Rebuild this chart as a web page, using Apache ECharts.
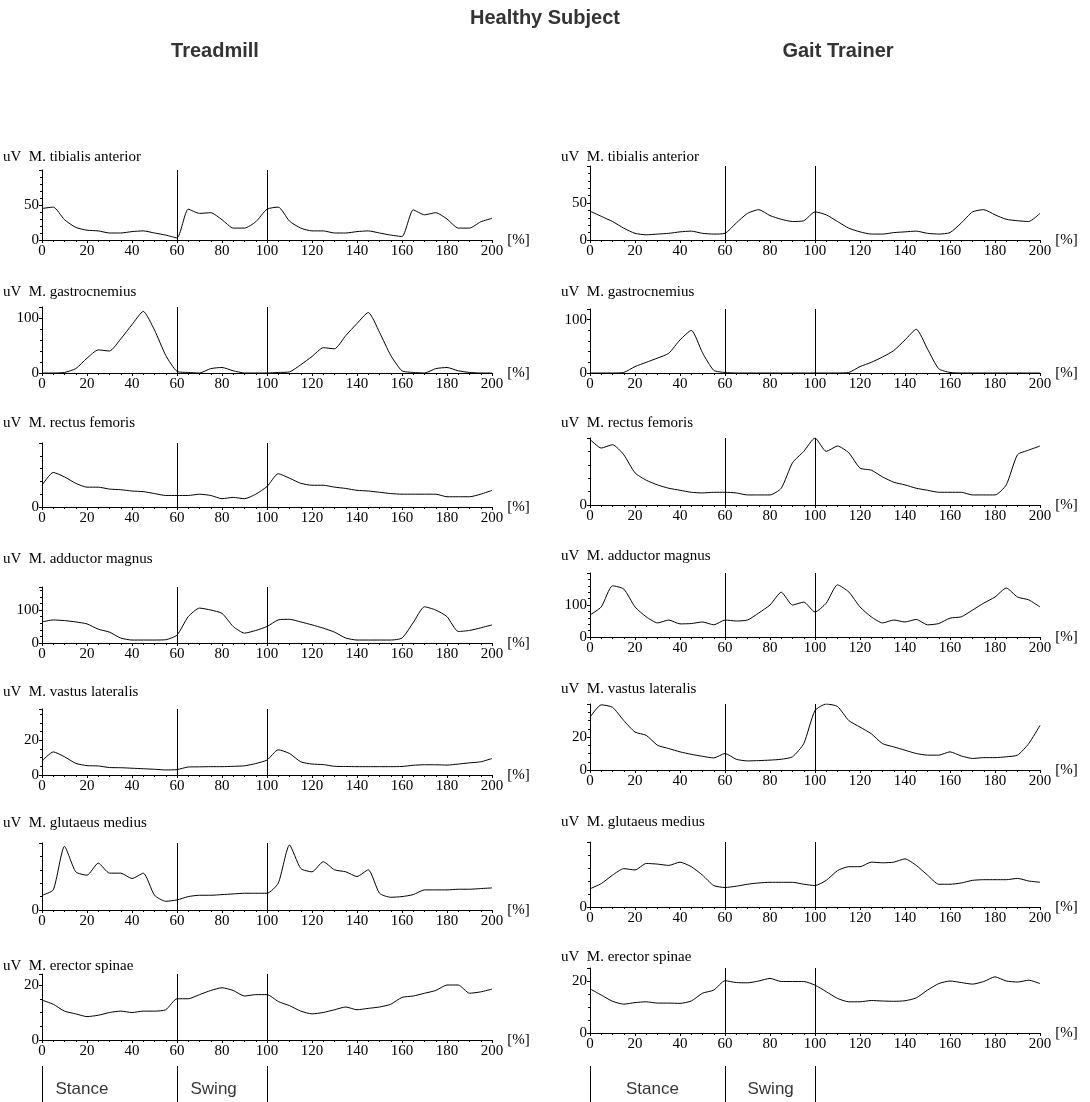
<!DOCTYPE html>
<html>
<head>
<meta charset="utf-8">
<script src="https://cdn.jsdelivr.net/npm/echarts@6.0.0/dist/echarts.min.js"></script>
<style>
  html, body { margin: 0; padding: 0; background: #fff; }
  #chart { width: 1090px; height: 1102px; }
</style>
</head>
<body>
<div id="chart"></div>
<script>
  // gait cycle in percent, two strides
  const pct = [0, 5, 10, 15, 20, 25, 30, 35, 40, 45, 50, 55, 60, 65, 70, 75, 80, 85, 90, 95, 100,
               105, 110, 115, 120, 125, 130, 135, 140, 145, 150, 155, 160, 165, 170, 175, 180, 185, 190, 195, 200];

  const muscles = ['M. tibialis anterior', 'M. gastrocnemius', 'M. rectus femoris', 'M. adductor magnus',
                   'M. vastus lateralis', 'M. glutaeus medius', 'M. erector spinae'];
  const phaseNames = ['Stance', 'Swing'];

  // treadmill (left column)
  const tibialisTreadmill = [45, 47, 29, 18, 14, 13, 10, 10, 12, 13, 10, 7, 3, 44, 38, 39, 29, 17, 17, 26, 44,
                             47, 27, 17, 13, 13, 10, 10, 12, 13, 10, 7, 5, 43, 36, 39, 30, 17, 17, 26, 31];
  const gastrocTreadmill = [0, 0, 1, 8, 27, 42, 40, 62, 88, 112, 78, 32, 3, 1, 0, 8, 10, 4, 0, 0, 0,
                            1, 2, 15, 30, 46, 44, 68, 90, 110, 74, 32, 4, 1, 0, 8, 10, 4, 1, 0, 0];
  const rectusTreadmill = [34, 54, 47, 37, 31, 31, 28, 27, 25, 24, 21, 18, 18, 18, 20, 18, 13, 15, 13, 20, 32,
                           52, 45, 37, 34, 34, 31, 29, 26, 25, 23, 21, 20, 20, 20, 20, 16, 16, 16, 20, 26];
  const adductorTreadmill = [64, 70, 68, 64, 58, 42, 33, 15, 9, 9, 9, 10, 24, 80, 106, 100, 90, 50, 30, 38, 50,
                             70, 72, 64, 55, 45, 33, 15, 9, 9, 9, 9, 15, 62, 110, 100, 80, 35, 38, 46, 55];
  const vastusTreadmill = [8, 13.3, 10.5, 6.7, 5.4, 5.2, 4.3, 4.2, 3.9, 3.6, 3.3, 2.9, 3.1, 4.6, 4.7, 4.8, 4.8, 5.0, 5.3, 6.6, 8.6,
                           14.5, 12.4, 7.6, 6.3, 6.0, 5.0, 4.9, 4.8, 4.8, 4.8, 4.8, 4.9, 5.6, 5.9, 5.9, 5.7, 6.3, 7.0, 7.6, 9.5];
  const glutTreadmill = [22, 30, 95, 57, 52, 70, 55, 55, 47, 55, 22, 13, 15, 20, 22, 22, 23, 24, 25, 25, 25,
                         40, 97, 62, 57, 72, 60, 57, 50, 60, 25, 19, 20, 23, 30, 30, 30, 31, 31, 32, 33];
  const erectorTreadmill = [14.5, 13, 10.5, 9.5, 8.5, 9, 10, 10.5, 10, 10.5, 10.5, 11, 15, 15, 16.5, 18, 19, 18, 16, 16.5, 16.5,
                            14, 12.5, 10.5, 9.5, 10, 11, 12, 11, 11.5, 12, 13, 15.5, 16, 17, 18, 20, 20, 17, 17.5, 18.5];

  // gait trainer (right column)
  const tibialisGait = [39, 32, 25, 16, 9, 7, 8, 9, 11, 12, 9, 8, 9, 23, 36, 41, 33, 28, 25, 26, 38,
                        34, 25, 16, 11, 8, 8, 10, 11, 12, 9, 8, 10, 23, 38, 41, 34, 28, 26, 25, 36];
  const gastrocGait = [0, 0, 0, 1, 12, 20, 28, 37, 62, 80, 38, 5, 1, 0, 0, 0, 0, 0, 0, 0, 0,
                       0, 0, 1, 12, 20, 30, 42, 62, 82, 45, 8, 1, 0, 0, 0, 0, 0, 0, 0, 0];
  const rectusGait = [98, 85, 90, 75, 48, 37, 30, 25, 22, 19, 18, 19, 19, 18, 15, 15, 15, 25, 63, 80, 100,
                      80, 88, 78, 55, 52, 42, 34, 30, 25, 22, 19, 19, 19, 15, 15, 15, 30, 75, 82, 88];
  const adductorGait = [69, 94, 160, 150, 94, 63, 44, 53, 41, 42, 47, 38, 53, 50, 53, 75, 100, 140, 100, 109, 78,
                        106, 163, 141, 94, 63, 44, 53, 47, 55, 38, 42, 59, 63, 84, 106, 125, 153, 125, 116, 94];
  const vastusGait = [32, 39.5, 38, 30, 23, 21, 15, 13, 11, 9.5, 8.3, 7.3, 10, 6.5, 5.5, 5.7, 6, 6.5, 8, 16, 36,
                      40, 38.5, 30, 26, 22, 16, 14, 12, 10, 9, 9, 11, 8.5, 7, 7.5, 7.5, 8, 9, 16, 27];
  const glutGait = [28, 36, 49, 59, 57, 67, 66, 64, 69, 62, 49, 33, 30, 32, 35, 37, 38, 38, 38, 35, 33,
                    41, 56, 62, 62, 69, 68, 69, 74, 64, 49, 35, 35, 37, 41, 42, 42, 42, 44, 40, 38];
  const erectorGait = [17, 14.6, 12.2, 11.1, 11.7, 12, 11.5, 11.5, 11.4, 12.3, 15.3, 16.5, 20.1, 19.4, 19.3, 20, 21, 19.8, 19.8, 19.8, 18.4,
                       15.9, 13.3, 12, 12, 12.5, 12.3, 12.2, 12.4, 13.5, 16.5, 19, 20, 19.4, 18.8, 19.8, 21.6, 20, 19.6, 20.3, 19];

  const treadmill = [tibialisTreadmill, gastrocTreadmill, rectusTreadmill, adductorTreadmill, vastusTreadmill, glutTreadmill, erectorTreadmill];
  const gaitTrainer = [tibialisGait, gastrocGait, rectusGait, adductorGait, vastusGait, glutGait, erectorGait];

  // layout per row: [zero line y, plot height, y max, y interval]
  const leftRows = [[240, 70, 100, 50], [373, 66, 120, 100], [507, 64, 100, 100], [643, 56, 170, 100],
                    [775, 66, 38, 20], [910, 67, 100, 100], [1040, 66, 24, 20]];
  const rightRows = [[240, 74, 100, 50], [373, 64, 120, 100], [505, 67, 100, 100], [637, 64, 200, 100],
                     [770, 66, 40, 20], [907, 65, 100, 100], [1033, 65, 25, 20]];
  const leftTitleY = [157, 292, 423, 559, 692, 823, 966];
  const rightTitleY = [157, 292, 423, 556, 689, 822, 957];

  const serif = '"Liberation Serif", "DejaVu Serif", serif';
  const sans = '"Liberation Sans", Arial, sans-serif';

  const grids = [], xAxes = [], yAxes = [], series = [], texts = [];

  function addPanel(colX, colW, row, values, titleX, titleY, title) {
    const [zeroY, h, yMax, yInt] = row;
    const idx = grids.length;
    grids.push({ left: colX, top: zeroY - h, width: colW, height: h, outerBoundsMode: 'none', containLabel: false });
    xAxes.push({
      gridIndex: idx, type: 'value', min: 0, max: 200, interval: 20,
      name: '[%]', nameLocation: 'end', nameGap: 3,
      nameTextStyle: { fontFamily: serif, fontSize: 15, color: '#000', padding: [0, 0, 8, 0] },
      axisLine: { show: true, onZero: false, lineStyle: { color: '#000', width: 1 } },
      axisTick: { show: true, length: 3, lineStyle: { color: '#000' } },
      minorTick: { show: true, splitNumber: 4, length: 2, lineStyle: { color: '#000' } },
      axisLabel: { fontFamily: serif, fontSize: 15, color: '#000', margin: 4 },
      splitLine: { show: false }, minorSplitLine: { show: false }
    });
    yAxes.push({
      gridIndex: idx, type: 'value', min: 0, max: yMax, interval: yInt,
      axisLine: { show: true, onZero: false, lineStyle: { color: '#000', width: 1 } },
      axisTick: { show: true, length: 3, lineStyle: { color: '#000' } },
      minorTick: { show: true, splitNumber: yInt === 20 ? 4 : 5, length: 2, lineStyle: { color: '#000' } },
      axisLabel: { showMaxLabel: false, fontFamily: serif, fontSize: 15, color: '#000', margin: 3 },
      splitLine: { show: false }, minorSplitLine: { show: false }
    });
    series.push({
      type: 'line', xAxisIndex: idx, yAxisIndex: idx,
      data: pct.map((p, k) => [p, values[k]]),
      showSymbol: false, symbol: 'none', smooth: 0.2,
      lineStyle: { color: '#000', width: 1 },
      markLine: {
        silent: true, symbol: ['none', 'none'], label: { show: false },
        lineStyle: { color: '#000', width: 1, type: 'solid' },
        data: [{ xAxis: 60 }, { xAxis: 100 }]
      }
    });
    texts.push({
      type: 'text', x: titleX, y: titleY,
      style: { text: 'uV  ' + title, font: '15px ' + serif, fill: '#000', textVerticalAlign: 'middle' }
    });
  }

  muscles.forEach((m, i) => {
    addPanel(42, 450, leftRows[i], treadmill[i], 3, leftTitleY[i], m);
    addPanel(590, 450, rightRows[i], gaitTrainer[i], 561, rightTitleY[i], m);
  });

  // stance / swing strip under the bottom panels
  function addPhase(colX, colW, stanceAt, swingAt) {
    const idx = grids.length;
    grids.push({ left: colX, top: 1066, width: colW, height: 36, outerBoundsMode: 'none', containLabel: false });
    xAxes.push({ gridIndex: idx, type: 'value', min: 0, max: 200, show: false });
    yAxes.push({ gridIndex: idx, type: 'value', min: 0, max: 1, show: false });
    series.push({
      type: 'scatter', xAxisIndex: idx, yAxisIndex: idx, symbolSize: 0,
      data: [[stanceAt, 0.35], [swingAt, 0.35]],
      label: {
        show: true, position: 'right', distance: 0,
        formatter: p => phaseNames[p.dataIndex],
        fontFamily: sans, fontSize: 17, color: '#000'
      },
      markLine: {
        silent: true, symbol: ['none', 'none'], label: { show: false },
        lineStyle: { color: '#000', width: 1, type: 'solid' },
        data: [{ xAxis: 0 }, { xAxis: 60 }, { xAxis: 100 }]
      }
    });
  }
  addPhase(42, 450, 6, 66);
  addPhase(590, 450, 16, 70);

  const headStyle = { font: 'bold 20px ' + sans, fill: '#333', textAlign: 'center', textVerticalAlign: 'middle' };
  texts.push({ type: 'text', x: 545, y: 18, style: Object.assign({ text: 'Healthy Subject' }, headStyle) });
  texts.push({ type: 'text', x: 215, y: 51, style: Object.assign({ text: 'Treadmill' }, headStyle) });
  texts.push({ type: 'text', x: 838, y: 51, style: Object.assign({ text: 'Gait Trainer' }, headStyle) });

  const chart = echarts.init(document.getElementById('chart'));
  chart.setOption({
    animation: false,
    backgroundColor: '#fff',
    grid: grids,
    xAxis: xAxes,
    yAxis: yAxes,
    series: series,
    graphic: texts
  });
</script>
</body>
</html>
